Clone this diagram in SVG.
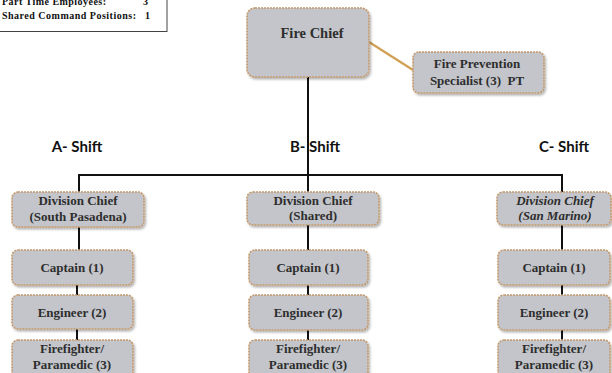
<svg xmlns="http://www.w3.org/2000/svg" width="612" height="373" viewBox="0 0 612 373">
  <defs>
    <filter id="sh" x="-10%" y="-10%" width="130%" height="140%">
      <feDropShadow dx="1.5" dy="2" stdDeviation="1.2" flood-color="#000" flood-opacity="0.3"/>
    </filter>
  </defs>
  <style>
    .box { fill: #c3c5ca; stroke: #c49a6c; stroke-width: 1.6; stroke-dasharray: 2 1; filter: url(#sh); }
    .t { font-family: "Liberation Serif", "Times New Roman", serif; font-weight: bold; font-size: 13px; fill: #2e2e2e; text-anchor: middle; }
    .it { font-style: italic; }
    .big { font-size: 14.5px; }
    .shift { font-family: "Lato", "Open Sans", "Liberation Sans", sans-serif; font-weight: bold; font-size: 15px; fill: #111; text-anchor: middle; }
    .legend { font-family: "Liberation Serif", "Times New Roman", serif; font-weight: bold; font-size: 10px; fill: #111; }
    .ln { stroke: #111; stroke-width: 2; fill: none; }
    .orange { stroke: #d2a055; stroke-width: 2.2; fill: none; }
  </style>
  <rect width="612" height="373" fill="#fff"/>

  <g id="legend">
    <rect x="-2" y="-2" width="169" height="33.5" fill="#fff" stroke="#444" stroke-width="1"/>
    <text class="legend" x="2" y="5" textLength="104" lengthAdjust="spacing">Part Time Employees:</text>
    <text class="legend" x="143" y="5">3</text>
    <text class="legend" x="2" y="19" textLength="134" lengthAdjust="spacing">Shared Command Positions:</text>
    <text class="legend" x="145" y="19">1</text>
  </g>

  <g id="connectors">
    <line class="orange" x1="369" y1="42" x2="413" y2="70"/>
    <line class="ln" x1="308" y1="77" x2="308" y2="192"/>
    <polyline class="ln" points="79,192 79,175 562,175 562,192"/>
    <line class="ln" x1="79" y1="227" x2="79" y2="250"/>
    <line class="ln" x1="77" y1="285" x2="77" y2="295"/>
    <line class="ln" x1="77" y1="329" x2="77" y2="340"/>
    <line class="ln" x1="308" y1="225" x2="308" y2="250"/>
    <line class="ln" x1="308" y1="285" x2="308" y2="295"/>
    <line class="ln" x1="308" y1="330" x2="308" y2="340"/>
    <line class="ln" x1="562" y1="225" x2="562" y2="250"/>
    <line class="ln" x1="562" y1="285" x2="562" y2="295"/>
    <line class="ln" x1="562" y1="330" x2="562" y2="340"/>
  </g>

  <g id="shift-labels">
    <text class="shift" x="77" y="152">A- Shift</text>
    <text class="shift" x="315" y="152">B- Shift</text>
    <text class="shift" x="564" y="152">C- Shift</text>
  </g>

  <g id="fire-chief">
    <rect class="box" x="247" y="8" width="122" height="69" rx="8"/>
    <text class="t big" x="312" y="38">Fire Chief</text>
  </g>
  <g id="fire-prevention">
    <rect class="box" x="413" y="52" width="131" height="41" rx="6"/>
    <text class="t" x="477" y="68">Fire Prevention</text>
    <text class="t" x="477" y="85" xml:space="preserve">Specialist (3)  PT</text>
  </g>

  <g id="a-division-chief">
    <rect class="box" x="12" y="192" width="132" height="35" rx="6"/>
    <text class="t" x="78" y="205">Division Chief</text>
    <text class="t" x="78" y="221">(South Pasadena)</text>
  </g>
  <g id="a-captain">
    <rect class="box" x="12" y="250" width="121" height="35" rx="6"/>
    <text class="t" x="72" y="272">Captain (1)</text>
  </g>
  <g id="a-engineer">
    <rect class="box" x="12" y="295" width="121" height="34" rx="6"/>
    <text class="t" x="72" y="317">Engineer (2)</text>
  </g>
  <g id="a-firefighter">
    <rect class="box" x="12" y="340" width="121" height="40" rx="6"/>
    <text class="t" x="72" y="353">Firefighter/</text>
    <text class="t" x="72" y="369">Paramedic (3)</text>
  </g>

  <g id="b-division-chief">
    <rect class="box" x="247" y="192" width="132" height="33" rx="6"/>
    <text class="t" x="313" y="205">Division Chief</text>
    <text class="t" x="313" y="220">(Shared)</text>
  </g>
  <g id="b-captain">
    <rect class="box" x="249" y="250" width="119" height="35" rx="6"/>
    <text class="t" x="308" y="272">Captain (1)</text>
  </g>
  <g id="b-engineer">
    <rect class="box" x="249" y="295" width="119" height="35" rx="6"/>
    <text class="t" x="308" y="317">Engineer (2)</text>
  </g>
  <g id="b-firefighter">
    <rect class="box" x="249" y="340" width="119" height="40" rx="6"/>
    <text class="t" x="308" y="353">Firefighter/</text>
    <text class="t" x="308" y="369">Paramedic (3)</text>
  </g>

  <g id="c-division-chief">
    <rect class="box" x="497" y="192" width="114" height="33" rx="6"/>
    <text class="t it" x="555" y="205">Division Chief</text>
    <text class="t it" x="555" y="220">(San Marino)</text>
  </g>
  <g id="c-captain">
    <rect class="box" x="498" y="250" width="112" height="35" rx="6"/>
    <text class="t" x="554" y="272">Captain (1)</text>
  </g>
  <g id="c-engineer">
    <rect class="box" x="498" y="295" width="112" height="35" rx="6"/>
    <text class="t" x="554" y="317">Engineer (2)</text>
  </g>
  <g id="c-firefighter">
    <rect class="box" x="498" y="340" width="112" height="40" rx="6"/>
    <text class="t" x="554" y="353">Firefighter/</text>
    <text class="t" x="554" y="369">Paramedic (3)</text>
  </g>
</svg>
